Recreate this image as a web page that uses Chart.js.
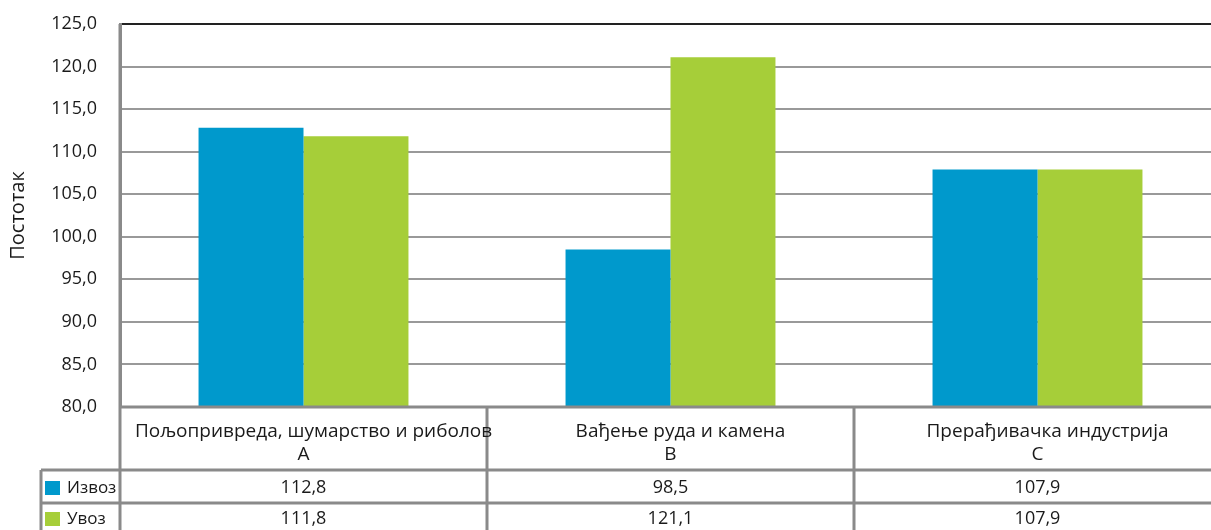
<!DOCTYPE html>
<html>
<head>
<meta charset="utf-8">
<script src="https://cdn.jsdelivr.net/npm/chart.js@4/dist/chart.umd.min.js"></script>
<style>
  html, body { margin: 0; padding: 0; background: #fff; overflow: hidden; }
  #wrap { width: 1221px; height: 530px; }
</style>
</head>
<body>
<div id="wrap"><canvas id="chart" width="1221" height="530"></canvas></div>
<script>
const categories = [
  ["Пољопривреда, шумарство и риболов", "A"],
  ["Вађење руда и камена", "B"],
  ["Прерађивачка индустрија", "C"]
];
const seriesNames = ["Извоз", "Увоз"];
const izvoz = [112.8, 98.5, 107.9];
const uvoz = [111.8, 121.1, 107.9];
const colors = ["#0099cc", "#a6ce39"];
const yTitle = "Постотак";

const FONT = "'Open Sans', sans-serif";
const fmt = v => v.toFixed(1).replace(".", ",");

// draws the data table under the plot
const tablePlugin = {
  id: "dataTable",
  afterDraw(chart) {
    const ctx = chart.ctx;
    const x = chart.scales.x;
    const area = chart.chartArea;
    const n = categories.length;
    const colW = (area.right - area.left) / n;
    const rowCat = area.bottom;
    const row1 = 470, row2 = 503, bottom = chart.height;
    const legendLeft = 41;
    ctx.save();
    ctx.strokeStyle = "#8a8a8a";
    ctx.lineWidth = 3;
    ctx.beginPath();
    ctx.moveTo(area.left, rowCat); ctx.lineTo(area.right, rowCat);
    ctx.moveTo(legendLeft, row1); ctx.lineTo(area.right, row1);
    ctx.moveTo(legendLeft, row2); ctx.lineTo(area.right, row2);
    ctx.moveTo(legendLeft, row1); ctx.lineTo(legendLeft, bottom);
    for (let i = 0; i <= n; i++) {
      const cx = area.left + i * colW;
      ctx.moveTo(cx, i === 0 ? area.top : rowCat);
      ctx.lineTo(cx, bottom);
    }
    ctx.stroke();

    ctx.fillStyle = "#1a1a1a";
    ctx.textAlign = "center";
    ctx.textBaseline = "middle";
    const rows = [izvoz, uvoz];
    categories.forEach((c, i) => {
      const cx = x.getPixelForValue(i);
      ctx.font = "19px " + FONT;
      ctx.fillText(c[0], cx + 10, 432);
      ctx.fillText(c[1], cx, 455);
      ctx.font = "18px " + FONT;
      ctx.fillText(fmt(rows[0][i]), cx, 488);
      ctx.fillText(fmt(rows[1][i]), cx, 519);
    });
    ctx.textAlign = "left";
    ctx.font = "17px " + FONT;
    seriesNames.forEach((s, k) => {
      const cy = k === 0 ? 488 : 519;
      ctx.fillStyle = colors[k];
      ctx.fillRect(45, cy - 7, 15, 14);
      ctx.fillStyle = "#1a1a1a";
      ctx.fillText(s, 67, cy);
    });
    ctx.restore();
  }
};

new Chart(document.getElementById("chart"), {
  type: "bar",
  data: {
    labels: categories,
    datasets: [
      { label: seriesNames[0], data: izvoz, backgroundColor: colors[0] },
      { label: seriesNames[1], data: uvoz, backgroundColor: colors[1] }
    ]
  },
  options: {
    responsive: false,
    animation: false,
    layout: { padding: { top: 24, bottom: 123, left: 0, right: 0 } },
    datasets: { bar: { categoryPercentage: 0.572, barPercentage: 1.0 } },
    plugins: { legend: { display: false }, tooltip: { enabled: false } },
    scales: {
      x: { display: false },
      y: {
        min: 80, max: 125,
        afterFit(scale) {
          scale.width = 120;
          scale.paddingTop = 0;
          scale.paddingBottom = 0;
        },
        ticks: {
          stepSize: 5,
          padding: 23,
          color: "#1a1a1a",
          font: { family: FONT, size: 18 },
          callback: v => fmt(v)
        },
        grid: {
          drawTicks: false,
          lineWidth: 2,
          color: ctx => ctx.tick && ctx.tick.value === 125 ? "#222" : "#999"
        },
        border: { display: true, color: "#8a8a8a", width: 3 },
        title: {
          display: true,
          text: yTitle,
          color: "#1a1a1a",
          font: { family: FONT, size: 20 },
          padding: { top: 6, bottom: 0 }
        }
      }
    }
  },
  plugins: [tablePlugin]
});
</script>
</body>
</html>
